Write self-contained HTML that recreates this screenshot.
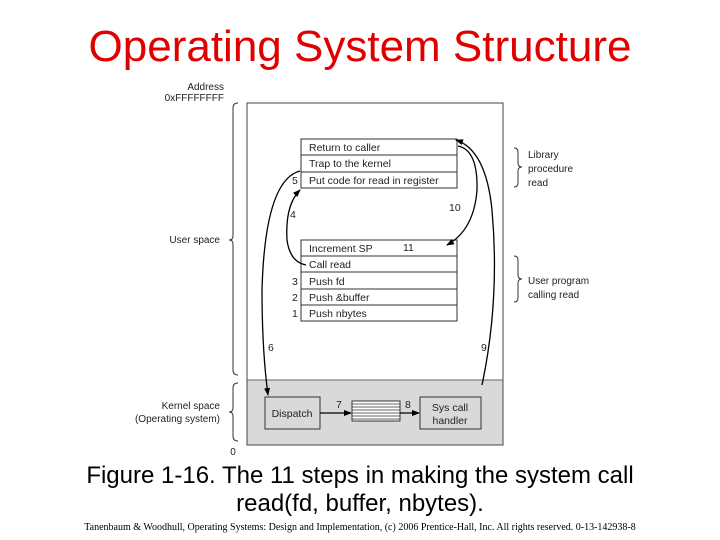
<!DOCTYPE html>
<html><head><style>
body{margin:0;background:#fff;width:720px;height:540px;overflow:hidden;position:relative}
svg{display:block}
</style></head><body>
<svg width="720" height="540" xmlns="http://www.w3.org/2000/svg" font-family="Liberation Sans, sans-serif">
<defs><marker id="a" markerWidth="8" markerHeight="8" refX="7" refY="4" orient="auto" markerUnits="userSpaceOnUse"><path d="M0,1 L8,4 L0,7 Z" fill="#000"/></marker></defs>
<text x="360" y="61" text-anchor="middle" font-size="44" fill="#e00000">Operating System Structure</text>
<rect x="247" y="380" width="256" height="65" fill="#d9d9d9"/>
<rect x="247" y="103" width="256" height="342" fill="none" stroke="#444" stroke-width="1"/>
<line x1="247" y1="380" x2="503" y2="380" stroke="#666"/>
<g font-size="10" fill="#222">
<text x="224" y="90" text-anchor="end">Address</text>
<text x="224" y="101" text-anchor="end">0xFFFFFFFF</text>
<text x="220" y="243" text-anchor="end">User space</text>
<text x="220" y="409" text-anchor="end">Kernel space</text>
<text x="220" y="422" text-anchor="end">(Operating system)</text>
<text x="233" y="455" text-anchor="middle">0</text>
<text x="528" y="158">Library</text>
<text x="528" y="172">procedure</text>
<text x="528" y="186">read</text>
<text x="528" y="284">User program</text>
<text x="528" y="298">calling read</text>
</g>
<g fill="none" stroke="#333" stroke-width="1">
<path d="M238,103 Q233,103 233,108 V236 Q233,240 229,240 Q233,240 233,244 V370 Q233,375 238,375"/>
<path d="M238,383 Q233,383 233,388 V408 Q233,412 229,412 Q233,412 233,416 V436 Q233,441 238,441"/>
<path d="M514,148 Q518,148 518,152 V163 Q518,167 522,167 Q518,167 518,171 V183 Q518,187 514,187"/>
<path d="M514,256 Q518,256 518,260 V275 Q518,279 522,279 Q518,279 518,283 V298 Q518,302 514,302"/>
</g>
<g fill="#fff" stroke="#333" stroke-width="1">
<rect x="301" y="139" width="156" height="49"/>
<line x1="301" y1="155" x2="457" y2="155"/>
<line x1="301" y1="172" x2="457" y2="172"/>
<rect x="301" y="240" width="156" height="81"/>
<line x1="301" y1="256" x2="457" y2="256"/>
<line x1="301" y1="272" x2="457" y2="272"/>
<line x1="301" y1="289" x2="457" y2="289"/>
<line x1="301" y1="305" x2="457" y2="305"/>
</g>
<g font-size="10.5" fill="#222">
<text x="309" y="151">Return to caller</text>
<text x="309" y="167">Trap to the kernel</text>
<text x="309" y="184">Put code for read in register</text>
<text x="309" y="252">Increment SP</text>
<text x="309" y="268">Call read</text>
<text x="309" y="285">Push fd</text>
<text x="309" y="301">Push &amp;buffer</text>
<text x="309" y="317">Push nbytes</text>
<text x="292" y="184">5</text>
<text x="292" y="285">3</text>
<text x="292" y="301">2</text>
<text x="292" y="317">1</text>
<text x="290" y="218">4</text>
<text x="403" y="251">11</text>
<text x="449" y="211">10</text>
<text x="268" y="351">6</text>
<text x="481" y="351">9</text>
<text x="336" y="408">7</text>
<text x="405" y="408">8</text>
</g>
<rect x="265" y="397" width="55" height="32" fill="#d9d9d9" stroke="#333"/>
<text x="292" y="417" text-anchor="middle" font-size="10.5" fill="#222">Dispatch</text>
<rect x="420" y="397" width="61" height="32" fill="#d9d9d9" stroke="#333"/>
<text x="450" y="411" text-anchor="middle" font-size="10.5" fill="#222">Sys call</text>
<text x="450" y="424" text-anchor="middle" font-size="10.5" fill="#222">handler</text>
<rect x="352" y="401" width="48" height="20" fill="#fff" stroke="#333"/>
<g stroke="#333" stroke-width="0.8">
<line x1="352" y1="404" x2="400" y2="404"/><line x1="352" y1="407" x2="400" y2="407"/><line x1="352" y1="410" x2="400" y2="410"/><line x1="352" y1="413" x2="400" y2="413"/><line x1="352" y1="416" x2="400" y2="416"/><line x1="352" y1="419" x2="400" y2="419"/>
</g>
<g fill="none" stroke="#000" stroke-width="1.3" marker-end="url(#a)">
<line x1="320" y1="413" x2="351" y2="413"/>
<line x1="400" y1="413" x2="419" y2="413"/>
<path d="M306,265 Q290,262 287,240 Q285,205 300,190"/>
<path d="M300,171 Q265,180 262,290 Q262,350 268,395"/>
<path d="M482,385 Q500,300 492,210 Q486,150 456,140"/>
<path d="M458,146 Q478,150 477,190 Q474,230 447,245"/>
</g>
</svg>
<div style="position:absolute;left:0;top:462px;width:720px;text-align:center;font:24px 'Liberation Sans',sans-serif;line-height:28px">Figure 1-16. The 11 steps in making the system call<br>read(fd, buffer, nbytes).</div>
<div style="position:absolute;left:0;top:522px;width:720px;text-align:center;font:10px 'Liberation Serif',serif">Tanenbaum &amp; Woodhull, Operating Systems: Design and Implementation, (c) 2006 Prentice-Hall, Inc. All rights reserved. 0-13-142938-8</div>
</body></html>
